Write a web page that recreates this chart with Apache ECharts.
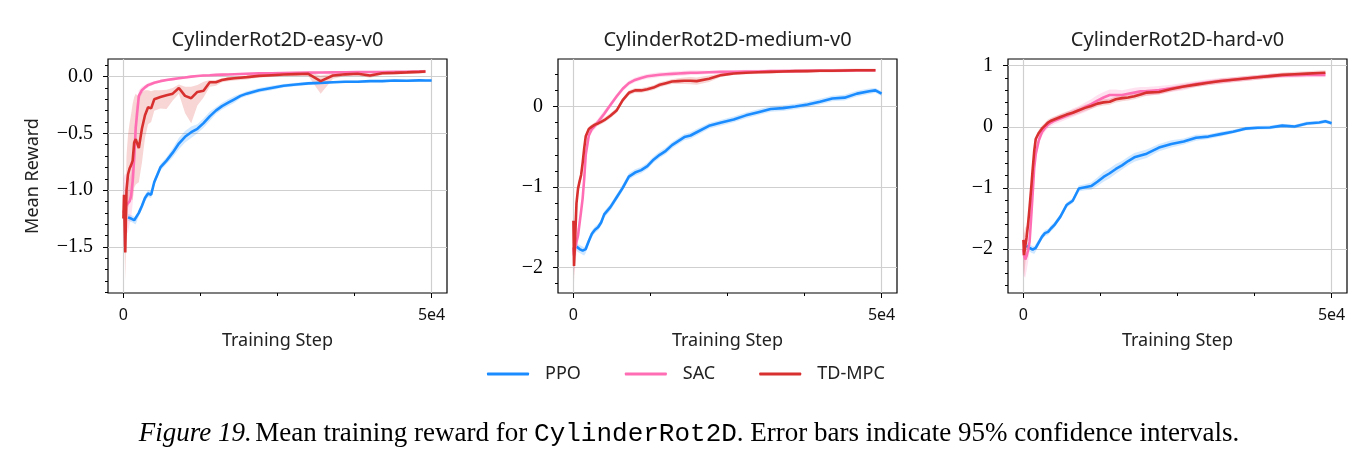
<!DOCTYPE html>
<html>
<head>
<meta charset="utf-8">
<script src="https://cdn.jsdelivr.net/npm/echarts@6/dist/echarts.min.js"></script>
<style>
  html, body { margin: 0; padding: 0; background: #fff; }
  #chart { width: 1372px; height: 463px; }
</style>
</head>
<body>
<div id="chart"></div>
<script>
// training steps shared by every curve
const steps = [0, 100, 300, 500, 750, 1000, 1250, 1500, 1750, 2000,
  2500, 3000, 3500, 4000, 4500, 5000,
  6000, 7000, 8000, 9000, 10000, 11000, 12000, 13000, 14000, 15000, 16000, 17000, 18000, 19000, 20000,
  22000, 24000, 26000, 28000, 30000, 32000, 34000, 36000, 38000, 40000, 42000, 44000, 46000, 48000,
  49000, 50000];

// --- easy ---
const easyPPO = [null, null, null, null, -1.24, -1.245, -1.25, -1.255, -1.265, -1.27,
  -1.2, -1.14, -1.07, -1.03, -1.04, -0.93,
  -0.8, -0.74, -0.67, -0.59, -0.53, -0.49, -0.46, -0.41, -0.35, -0.3, -0.26, -0.23, -0.2, -0.17, -0.15,
  -0.12, -0.1, -0.08, -0.07, -0.06, -0.055, -0.05, -0.045, -0.045, -0.04, -0.04, -0.035, -0.037, -0.033,
  -0.035, -0.035];
const easyPPOErr = [null, null, null, null, 0.03, 0.03, 0.03, 0.03, 0.03, 0.03,
  0.03, 0.03, 0.03, 0.03, 0.03, 0.03,
  0.03, 0.03, 0.04, 0.05, 0.05, 0.05, 0.04, 0.04, 0.04, 0.03, 0.03, 0.03, 0.03, 0.02, 0.02,
  0.02, 0.02, 0.015, 0.015, 0.015, 0.01, 0.01, 0.01, 0.01, 0.01, 0.01, 0.01, 0.01, 0.01,
  0.01, 0.01];
const easySAC = [-1.2, -1.18, -1.15, -1.13, -1.12, -1.1, -1.05, -0.92, -0.72, -0.45,
  -0.17, -0.12, -0.095, -0.075, -0.065, -0.055,
  -0.04, -0.03, -0.022, -0.015, -0.008, 0.0, 0.005, 0.01, 0.012, 0.015, 0.017, 0.019, 0.021, 0.023, 0.025,
  0.028, 0.03, 0.032, 0.034, 0.035, 0.036, 0.037, 0.038, 0.04, 0.04, 0.041, 0.042, 0.043, 0.045,
  0.045, null];
const easySACErr = [0.3, 0.3, 0.3, 0.25, 0.25, 0.2, 0.2, 0.2, 0.2, 0.15,
  0.05, 0.03, 0.02, 0.02, 0.015, 0.015,
  0.01, 0.01, 0.01, 0.01, 0.01, 0.01, 0.01, 0.01, 0.01, 0.01, 0.01, 0.01, 0.01, 0.01, 0.01,
  0.01, 0.01, 0.01, 0.01, 0.01, 0.01, 0.01, 0.01, 0.01, 0.01, 0.01, 0.01, 0.01, 0.01,
  0.01, null];
const easyTD = [-1.25, -1.04, -1.55, -1.0, -0.86, -0.81, -0.78, -0.74, -0.58, -0.55,
  -0.63, -0.46, -0.34, -0.27, -0.28, -0.2,
  -0.18, -0.165, -0.15, -0.1, -0.17, -0.19, -0.135, -0.125, -0.05, -0.05, -0.03, -0.02, -0.015, -0.01, -0.005,
  0.006, 0.012, 0.018, 0.022, 0.025, -0.04, 0.01, 0.02, 0.025, 0.01, 0.03, 0.033, 0.037, 0.042,
  0.045, null];
const easyTDErrLow = [0.15, 0.2, 0.25, 0.3, 0.3, 0.3, 0.3, 0.35, 0.4, 0.4,
  0.3, 0.3, 0.2, 0.15, 0.12, 0.1,
  0.1, 0.12, 0.06, 0.05, 0.15, 0.22, 0.12, 0.06, 0.04, 0.03, 0.02, 0.02, 0.02, 0.02, 0.02,
  0.015, 0.015, 0.015, 0.015, 0.02, 0.11, 0.03, 0.015, 0.015, 0.02, 0.015, 0.015, 0.015, 0.015,
  0.015, null];
const easyTDErrHigh = [0.1, 0.15, 0.2, 0.3, 0.35, 0.4, 0.45, 0.5, 0.4, 0.4,
  0.45, 0.32, 0.22, 0.15, 0.15, 0.08,
  0.06, 0.05, 0.05, 0.03, 0.08, 0.1, 0.06, 0.08, 0.02, 0.02, 0.015, 0.015, 0.015, 0.015, 0.015,
  0.015, 0.015, 0.015, 0.015, 0.015, 0.05, 0.015, 0.015, 0.015, 0.015, 0.015, 0.015, 0.015, 0.015,
  0.015, null];

// --- medium ---
const medPPO = [null, null, null, -1.74, -1.76, -1.77, -1.78, -1.79, -1.8, -1.77,
  -1.67, -1.58, -1.53, -1.5, -1.44, -1.34,
  -1.25, -1.13, -1.01, -0.87, -0.82, -0.79, -0.74, -0.66, -0.6, -0.55, -0.48, -0.43, -0.38, -0.36, -0.32,
  -0.24, -0.2, -0.16, -0.11, -0.07, -0.03, -0.02, 0.0, 0.025, 0.06, 0.1, 0.11, 0.16, 0.19,
  0.2, 0.16];
const medPPOErr = [null, null, null, 0.05, 0.05, 0.05, 0.05, 0.05, 0.05, 0.05,
  0.04, 0.04, 0.04, 0.04, 0.04, 0.04,
  0.04, 0.04, 0.04, 0.04, 0.04, 0.04, 0.04, 0.04, 0.04, 0.04, 0.04, 0.04, 0.04, 0.04, 0.04,
  0.035, 0.035, 0.035, 0.035, 0.035, 0.035, 0.035, 0.035, 0.035, 0.035, 0.035, 0.035, 0.035, 0.035,
  0.03, 0.03];
const medSAC = [-1.75, -1.85, -1.75, -1.68, -1.6, -1.45, -1.3, -1.14, -0.9, -0.6,
  -0.36, -0.28, -0.24, -0.19, -0.14, -0.09,
  0.02, 0.125, 0.22, 0.29, 0.33, 0.355, 0.375, 0.385, 0.395, 0.4, 0.405, 0.41, 0.415, 0.42, 0.42,
  0.425, 0.43, 0.43, 0.435, 0.435, 0.44, 0.44, 0.44, 0.445, 0.445, 0.445, 0.445, 0.45, 0.45,
  0.45, null];
const medSACErr = [0.2, 0.25, 0.2, 0.15, 0.1, 0.08, 0.06, 0.05, 0.05, 0.05,
  0.04, 0.04, 0.04, 0.04, 0.04, 0.04,
  0.03, 0.03, 0.03, 0.03, 0.03, 0.03, 0.03, 0.03, 0.03, 0.03, 0.03, 0.03, 0.03, 0.03, 0.03,
  0.02, 0.02, 0.02, 0.02, 0.02, 0.02, 0.02, 0.02, 0.02, 0.02, 0.02, 0.02, 0.02, 0.02,
  0.02, null];
const medTD = [-1.42, -1.98, -1.6, -1.2, -1.02, -0.93, -0.85, -0.7, -0.52, -0.37,
  -0.28, -0.25, -0.225, -0.21, -0.19, -0.17,
  -0.115, -0.05, 0.08, 0.17, 0.2, 0.2, 0.215, 0.235, 0.27, 0.29, 0.31, 0.315, 0.32, 0.32, 0.315,
  0.345, 0.39, 0.41, 0.42, 0.425, 0.43, 0.435, 0.44, 0.44, 0.445, 0.445, 0.448, 0.45, 0.45,
  0.45, null];
const medTDErr = [0.15, 0.2, 0.15, 0.1, 0.06, 0.05, 0.04, 0.04, 0.04, 0.03,
  0.03, 0.03, 0.03, 0.03, 0.03, 0.03,
  0.03, 0.03, 0.03, 0.03, 0.03, 0.03, 0.03, 0.03, 0.03, 0.03, 0.03, 0.035, 0.04, 0.045, 0.045,
  0.04, 0.02, 0.02, 0.02, 0.02, 0.02, 0.02, 0.02, 0.02, 0.02, 0.02, 0.02, 0.02, 0.02,
  0.02, null];

// --- hard ---
const hardPPO = [null, null, null, -1.95, -1.97, -1.98, -2.0, -2.01, -2.02, -1.98,
  -1.89, -1.8, -1.74, -1.72, -1.66, -1.61,
  -1.47, -1.28, -1.21, -1.01, -0.99, -0.97, -0.9, -0.82, -0.76, -0.69, -0.63, -0.56, -0.5, -0.47, -0.44,
  -0.34, -0.28, -0.24, -0.18, -0.16, -0.12, -0.08, -0.03, -0.015, -0.01, 0.02, 0.005, 0.055, 0.07,
  0.09, 0.06];
const hardPPOErr = [null, null, null, 0.06, 0.06, 0.06, 0.06, 0.06, 0.06, 0.06,
  0.05, 0.05, 0.05, 0.05, 0.05, 0.05,
  0.04, 0.04, 0.04, 0.05, 0.05, 0.06, 0.07, 0.08, 0.08, 0.08, 0.07, 0.07, 0.07, 0.07, 0.07,
  0.06, 0.06, 0.05, 0.05, 0.04, 0.04, 0.03, 0.03, 0.03, 0.03, 0.03, 0.03, 0.03, 0.03,
  0.03, 0.03];
const hardSAC = [-2.0, -2.1, -2.17, -2.12, -2.02, -1.88, -1.5, -1.1, -0.67, -0.45,
  -0.22, -0.09, -0.02, 0.035, 0.07, 0.1,
  0.14, 0.18, 0.23, 0.27, 0.32, 0.37, 0.43, 0.48, 0.52, 0.52, 0.52, 0.54, 0.56, 0.58, 0.58,
  0.6, 0.63, 0.66, 0.7, 0.73, 0.75, 0.77, 0.79, 0.81, 0.83, 0.84, 0.845, 0.85, 0.85,
  0.85, null];
const hardSACErr = [0.35, 0.35, 0.3, 0.25, 0.2, 0.15, 0.12, 0.1, 0.08, 0.07,
  0.06, 0.06, 0.06, 0.06, 0.06, 0.06,
  0.06, 0.06, 0.07, 0.07, 0.08, 0.08, 0.09, 0.09, 0.09, 0.09, 0.08, 0.08, 0.08, 0.07, 0.07,
  0.07, 0.06, 0.06, 0.05, 0.05, 0.05, 0.04, 0.04, 0.04, 0.04, 0.04, 0.04, 0.04, 0.04,
  0.04, null];
const hardTD = [-1.85, -2.1, -1.95, -1.82, -1.6, -1.32, -1.02, -0.7, -0.4, -0.2,
  -0.1, -0.03, 0.02, 0.07, 0.1, 0.12,
  0.16, 0.2, 0.23, 0.27, 0.31, 0.34, 0.38, 0.4, 0.41, 0.45, 0.47, 0.48, 0.5, 0.53, 0.56,
  0.57, 0.62, 0.66, 0.69, 0.72, 0.75, 0.77, 0.79, 0.81, 0.83, 0.85, 0.86, 0.87, 0.88,
  0.885, null];
const hardTDErr = [0.3, 0.35, 0.3, 0.2, 0.15, 0.12, 0.1, 0.08, 0.06, 0.05,
  0.05, 0.05, 0.05, 0.05, 0.05, 0.05,
  0.05, 0.05, 0.05, 0.05, 0.05, 0.05, 0.05, 0.05, 0.05, 0.05, 0.05, 0.05, 0.05, 0.05, 0.05,
  0.04, 0.04, 0.04, 0.04, 0.04, 0.04, 0.04, 0.04, 0.04, 0.04, 0.04, 0.04, 0.04, 0.04,
  0.04, null];

// ticks
const xTicks = [0, 12500, 25000, 37500, 50000];
const xLabels = [0, 50000];
const easyYTicks = [-1.5, -1.0, -0.5, 0.0];
const easyYMinor = [-1.9, -1.8, -1.7, -1.6, -1.5, -1.4, -1.3, -1.2, -1.1, -1.0, -0.9, -0.8, -0.7, -0.6, -0.5, -0.4, -0.3, -0.2, -0.1, 0.0, 0.1];
const medYTicks = [-2, -1, 0];
const medYMinor = [-2.2, -2.0, -1.8, -1.6, -1.4, -1.2, -1.0, -0.8, -0.6, -0.4, -0.2, 0.0, 0.2, 0.4];
const hardYTicks = [-2, -1, 0, 1];
const hardYMinor = [-2.6, -2.4, -2.2, -2.0, -1.8, -1.6, -1.4, -1.2, -1.0, -0.8, -0.6, -0.4, -0.2, 0.0, 0.2, 0.4, 0.6, 0.8, 1.0];

const titles = ['CylinderRot2D-easy-v0', 'CylinderRot2D-medium-v0', 'CylinderRot2D-hard-v0'];
const methods = ['PPO', 'SAC', 'TD-MPC'];
const colors = { 'PPO': '#1a8cff', 'SAC': '#ff6eb4', 'TD-MPC': '#d8302f' };

const panels = [
  { yMin: -1.906, yMax: 0.155, ticks: easyYTicks, minor: easyYMinor, dec: 1,
    data: { 'PPO': [easyPPO, easyPPOErr, easyPPOErr], 'SAC': [easySAC, easySACErr, easySACErr], 'TD-MPC': [easyTD, easyTDErrLow, easyTDErrHigh] } },
  { yMin: -2.316, yMax: 0.59, ticks: medYTicks, minor: medYMinor, dec: 0,
    data: { 'PPO': [medPPO, medPPOErr, medPPOErr], 'SAC': [medSAC, medSACErr, medSACErr], 'TD-MPC': [medTD, medTDErr, medTDErr] } },
  { yMin: -2.72, yMax: 1.11, ticks: hardYTicks, minor: hardYMinor, dec: 0,
    data: { 'PPO': [hardPPO, hardPPOErr, hardPPOErr], 'SAC': [hardSAC, hardSACErr, hardSACErr], 'TD-MPC': [hardTD, hardTDErr, hardTDErr] } }
];

const gridLefts = [108, 558, 1008];
const gridW = 339, gridTop = 59, gridH = 234;
const SANS = 'Noto Sans';
const SERIF = 'Liberation Serif';

const chart = echarts.init(document.getElementById('chart'));

const grids = [], xAxes = [], yAxes = [], series = [], graphics = [];

panels.forEach((p, k) => {
  grids.push({ left: gridLefts[k], top: gridTop, width: gridW, height: gridH,
    show: true, borderColor: '#000', borderWidth: 1.2, backgroundColor: 'transparent', outerBoundsMode: 'none' });

  // main x axis: small ticks + labels
  xAxes.push({
    type: 'value', gridIndex: k, min: -2500, max: 52500, position: 'bottom',
    axisLine: { show: false, onZero: false },
    axisTick: { show: true, length: 3, customValues: xTicks, lineStyle: { color: '#000', width: 1 } },
    axisLabel: { customValues: xLabels, formatter: v => (v === 0 ? '0' : '5e4'),
      margin: 14, fontFamily: SANS, fontSize: 16, color: '#111' },
    splitLine: { show: false },
    name: 'Training Step', nameLocation: 'middle', nameGap: 39,
    nameTextStyle: { fontFamily: SANS, fontSize: 18, color: '#222' }
  });
  // second x axis: long ticks and vertical grid at 0 / 5e4
  xAxes.push({
    type: 'value', gridIndex: k, min: -2500, max: 52500, position: 'bottom',
    axisLine: { show: false, onZero: false },
    axisTick: { show: true, length: 5, customValues: xLabels, lineStyle: { color: '#000', width: 1 } },
    axisLabel: { show: false },
    splitLine: { show: true, lineStyle: { color: '#cfcfcf', width: 1.2 } }
  });

  const fmt = v => {
    const s = Math.abs(v).toFixed(p.dec);
    return v < -1e-9 ? '\u2212' + s : s;
  };
  yAxes.push({
    type: 'value', gridIndex: k, min: p.yMin, max: p.yMax, position: 'left',
    axisLine: { show: false, onZero: false },
    axisTick: { show: true, length: 5, customValues: p.ticks, lineStyle: { color: '#000', width: 1 } },
    axisLabel: { customValues: p.ticks, formatter: fmt, margin: 15, fontFamily: SERIF, fontSize: 20, color: '#000' },
    splitLine: { show: true, lineStyle: { color: '#cfcfcf', width: 1.2 } },
    name: k === 0 ? 'Mean Reward' : '', nameLocation: 'middle', nameGap: 66,
    nameTextStyle: { fontFamily: SANS, fontSize: 18, color: '#222' }
  });
  yAxes.push({
    type: 'value', gridIndex: k, min: p.yMin, max: p.yMax, position: 'left',
    axisLine: { show: false, onZero: false },
    axisTick: { show: true, length: 3, customValues: p.minor, lineStyle: { color: '#000', width: 1 } },
    axisLabel: { show: false },
    splitLine: { show: false }
  });

  // confidence bands: one polygon per method, drawn through the axis scales
  methods.forEach(m => {
    const [mean, lo, hi] = p.data[m];
    const pts = [];
    steps.forEach((s, i) => {
      if (mean[i] != null) pts.push([s, mean[i] - lo[i], mean[i] + hi[i]]);
    });
    series.push({
      type: 'custom', name: m + ' ci' + k, xAxisIndex: 2 * k, yAxisIndex: 2 * k,
      silent: true, z: 1, clip: true,
      data: pts,
      encode: { x: 0, y: [1, 2] },
      renderItem: (params, api) => {
        if (params.dataIndex !== 0) return null;
        const upper = pts.map(d => api.coord([d[0], d[2]]));
        const lower = pts.map(d => api.coord([d[0], d[1]])).reverse();
        return { type: 'polygon', shape: { points: upper.concat(lower) },
          style: { fill: colors[m], opacity: 0.2 } };
      }
    });
  });

  // mean curves
  methods.forEach(m => {
    series.push({
      type: 'line', name: m, xAxisIndex: 2 * k, yAxisIndex: 2 * k,
      data: steps.map((s, i) => [s, p.data[m][0][i]]),
      symbol: 'none', showSymbol: false, z: 3,
      lineStyle: { color: colors[m], width: 2.6 }, itemStyle: { color: colors[m] }
    });
  });

  graphics.push({
    type: 'text', x: gridLefts[k] + gridW / 2, y: 40,
    style: { text: titles[k], align: 'center', verticalAlign: 'middle',
      fontFamily: SANS, fontSize: 20, fill: '#222' }
  });
});

graphics.push({
  type: 'text', x: 689, y: 434,
  style: {
    text: '{i|Figure 19.} {n|Mean training reward for }{m|CylinderRot2D}{n|. Error bars indicate 95% confidence intervals.}',
    align: 'center', verticalAlign: 'middle',
    rich: {
      i: { fontFamily: SERIF, fontStyle: 'italic', fontSize: 27, fill: '#000' },
      n: { fontFamily: SERIF, fontSize: 27, fill: '#000' },
      m: { fontFamily: 'Liberation Mono', fontSize: 26, fill: '#000' }
    }
  }
});

chart.setOption({
  animation: false,
  backgroundColor: '#fff',
  grid: grids,
  xAxis: xAxes,
  yAxis: yAxes,
  series: series,
  legend: {
    data: methods, left: 482, top: 360, icon: 'roundRect',
    itemWidth: 42, itemHeight: 3, itemGap: 44,
    textStyle: { fontFamily: SANS, fontSize: 18, color: '#222', padding: [0, 0, 0, 11] }
  },
  graphic: graphics
});
</script>
</body>
</html>
